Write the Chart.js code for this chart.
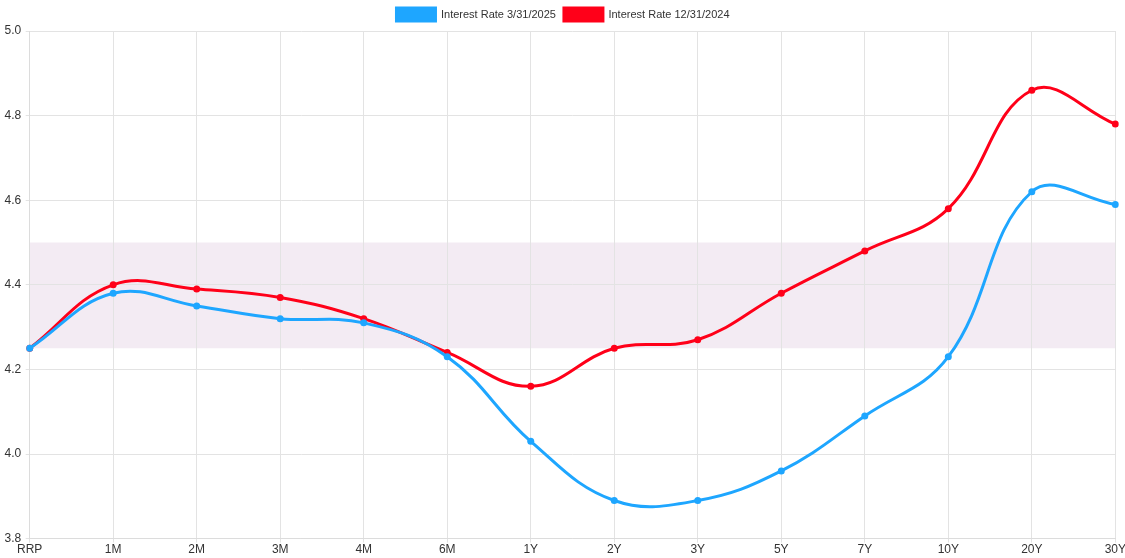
<!DOCTYPE html>
<html>
<head>
<meta charset="utf-8">
<script src="https://cdn.jsdelivr.net/npm/chart.js@4.4.1/dist/chart.umd.min.js"></script>
<style>
html,body{margin:0;padding:0;background:#fff;overflow:hidden;}
#wrap{width:1125px;height:558px;overflow:hidden;}
</style>
</head>
<body>
<div id="wrap"><canvas id="c" width="1126" height="558"></canvas></div>
<script>
const categories = ["RRP","1M","2M","3M","4M","6M","1Y","2Y","3Y","5Y","7Y","10Y","20Y","30Y"];
const rates2025 = [4.25,4.38,4.35,4.32,4.31,4.23,4.03,3.89,3.89,3.96,4.09,4.23,4.62,4.59];
const rates2024 = [4.25,4.40,4.39,4.37,4.32,4.24,4.16,4.25,4.27,4.38,4.48,4.58,4.86,4.78];
const seriesLabels = ["Interest Rate 3/31/2025","Interest Rate 12/31/2024"];
const bandRange = [4.25, 4.5];
const yTicks = [3.8,4.0,4.2,4.4,4.6,4.8,5.0];

const bandPlugin = {
  id: 'band',
  beforeDraw(chart) {
    const {ctx, chartArea, scales} = chart;
    const y1 = scales.y.getPixelForValue(bandRange[1]);
    const y0 = scales.y.getPixelForValue(bandRange[0]);
    ctx.save();
    ctx.fillStyle = '#f3ebf3';
    ctx.fillRect(chartArea.left, y1, chartArea.right - chartArea.left, y0 - y1);
    ctx.restore();
  }
};

Chart.defaults.font.family = '"Liberation Sans", Arial, sans-serif';
Chart.defaults.font.size = 12;
Chart.defaults.color = '#444';

new Chart(document.getElementById('c'), {
  type: 'line',
  data: {
    labels: categories,
    datasets: [
      {
        label: seriesLabels[0],
        data: rates2025,
        borderColor: '#1ea6ff',
        backgroundColor: '#1ea6ff',
        borderWidth: 3,
        pointRadius: 3.5,
        pointBorderWidth: 0,
        pointHoverRadius: 3.5,
        tension: 0.4,
        fill: false
      },
      {
        label: seriesLabels[1],
        data: rates2024,
        borderColor: '#ff0019',
        backgroundColor: '#ff0019',
        borderWidth: 3,
        pointRadius: 3.5,
        pointBorderWidth: 0,
        pointHoverRadius: 3.5,
        tension: 0.4,
        fill: false
      }
    ]
  },
  options: {
    responsive: false,
    animation: false,
    devicePixelRatio: 1,
    layout: { padding: { left: 0, right: 0, top: 0, bottom: 1 } },
    plugins: {
      legend: {
        position: 'top',
        labels: { boxWidth: 39, boxHeight: 13, color: '#333', padding: 8, font: { size: 11 } }
      },
      tooltip: { enabled: false }
    },
    scales: {
      x: {
        grid: { color: '#e3e3e3', tickLength: 4 },
        border: { color: '#dcdcdc' },
        ticks: { color: '#333', maxRotation: 0, padding: 0 }
      },
      y: {
        min: 3.8,
        max: 5.0,
        afterBuildTicks(axis) { axis.ticks = yTicks.map(v => ({value: v})); },
        grid: { color: '#e3e3e3', tickLength: 4 },
        border: { color: '#dcdcdc' },
        ticks: { color: '#333', padding: 4.5, callback: v => v.toFixed(1) }
      }
    }
  },
  plugins: [bandPlugin]
});
</script>
</body>
</html>
